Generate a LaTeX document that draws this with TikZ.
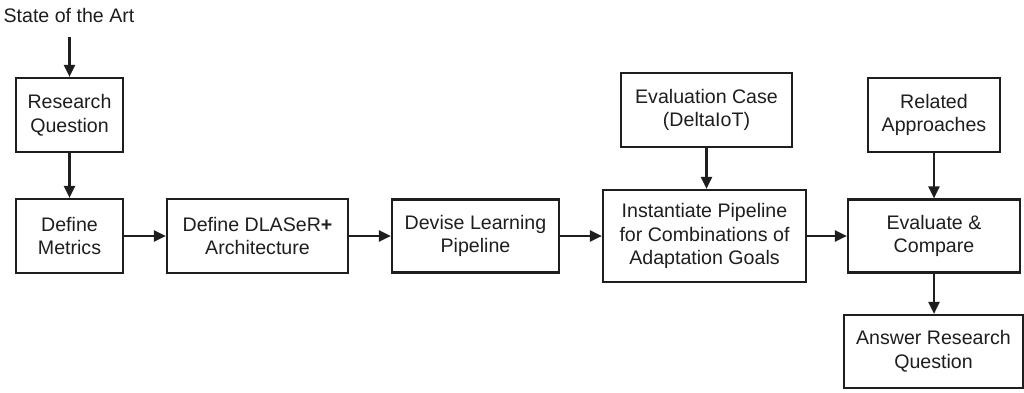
\documentclass[tikz,border=0pt]{standalone}
\usepackage{fontspec}
\setmainfont{Liberation Sans}
\usetikzlibrary{arrows.meta}
\definecolor{ln}{HTML}{1e1e1e}
\tikzset{
  box/.style={draw=ln, line width=2.2pt, rectangle, align=center, inner sep=0pt,
    font=\fontsize{19.6}{23.6}\selectfont, text=ln},
  arr/.style={draw=ln, line width=2.2pt, -{Triangle[length=12pt,width=11pt]}}
}
\begin{document}
\begin{tikzpicture}[x=1pt,y=-1pt]
\useasboundingbox (0,0) rectangle (1024,392);
\node[font=\fontsize{19.6}{23.6}\selectfont, text=ln, inner sep=0pt] (soa) at (69,15) {State of the Art};
\coordinate (soaend) at (69.5,37);
\node[box, minimum width=107pt, minimum height=74pt] (rq) at (69.5,115) {Research\\Question};
\node[box, minimum width=107pt, minimum height=74pt] (dm) at (69.5,236) {Define\\Metrics};
\node[box, minimum width=181pt, minimum height=74pt] (dl) at (257.5,236) {Define DLASeR\textbf{+}\\Architecture};
\node[box, minimum width=167pt, minimum height=73pt] (dv) at (475.5,236) {Devise Learning\\Pipeline};
\node[box, minimum width=203pt, minimum height=92pt] (ip) at (704.5,236) {Instantiate Pipeline\\for Combinations of\\Adaptation Goals};
\node[box, minimum width=171pt, minimum height=74pt] (ec) at (706.5,110) {Evaluation Case\\(DeltaIoT)};
\node[box, minimum width=132pt, minimum height=74pt] (ra) at (934,115) {Related\\Approaches};
\node[box, minimum width=172pt, minimum height=73pt] (ev) at (934,236) {Evaluate \&\\Compare};
\node[box, minimum width=179pt, minimum height=73pt] (ans) at (933.5,351.5) {Answer Research\\Question};
\draw[arr] (soaend) -- (rq.north);
\draw[arr] (rq) -- (dm);
\draw[arr] (dm) -- (dl);
\draw[arr] (dl) -- (dv);
\draw[arr] (dv) -- (ip);
\draw[arr] (ec.south) -- (ec.south |- ip.north);
\draw[arr] (ip) -- (ev);
\draw[arr] (ra) -- (ev);
\draw[arr] (ev.south) -- (ev.south |- ans.north);
\end{tikzpicture}
\end{document}
